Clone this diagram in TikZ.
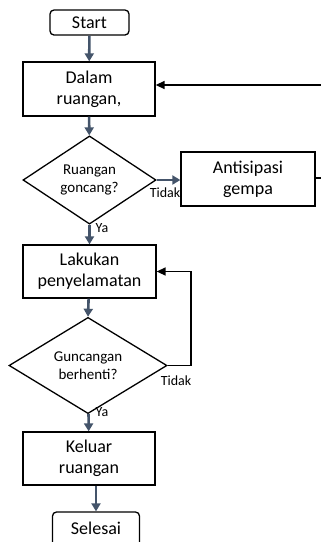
\documentclass[tikz,border=0pt]{standalone}
\usepackage{fontspec}
\setmainfont{Carlito}
\usetikzlibrary{shapes.geometric,arrows.meta}
\definecolor{flowblue}{HTML}{44546A}
\begin{document}
\begin{tikzpicture}[x=1pt,y=-1pt,
  box/.style={draw,line width=1.3pt,align=center,inner sep=0pt,
    font=\fontsize{18}{21}\selectfont},
  term/.style={box,rounded corners=4pt},
  ask/.style={draw,line width=1.3pt,diamond,align=center,inner sep=0pt,
    font=\fontsize{15}{18}\selectfont},
  lbl/.style={inner sep=0pt,font=\fontsize{14}{16}\selectfont},
  flow/.style={draw=flowblue,line width=2.6pt,
    -{Triangle[width=9pt,length=8pt]}},
  back/.style={draw,line width=1.4pt,-{Triangle[width=8pt,length=9pt]}}]

\useasboundingbox (0,0) rectangle (321,542);

% nodes
\node[term,minimum width=79pt,minimum height=25pt] (start) at (89.5,22.5) {Start};
\node[box,minimum width=132pt,minimum height=54pt] (dalam) at (89,89) {Dalam\\ruangan,};
\node[ask,minimum width=133pt,minimum height=76pt] (q1) at (89.5,180) {Ruangan\\goncang?};
\node[box,minimum width=134pt,minimum height=54pt] (anti) at (248,179) {Antisipasi\\gempa};
\node[box,minimum width=133pt,minimum height=53pt] (laku) at (89.5,271.5) {Lakukan\\penyelamatan};
\node[ask,minimum width=158pt,minimum height=79pt] (q2) at (88,365.5) {Guncangan\\berhenti?};
\node[box,minimum width=132pt,minimum height=53pt] (keluar) at (89,458.5) {Keluar\\ruangan};
\node[term,minimum width=87pt,minimum height=36pt] (selesai) at (96,530) {\raisebox{3pt}{Selesai}};

% labels
\node[lbl] (t1) at (165,193) {Tidak};
\node[lbl] (y1) at (102,228) {Ya};
\node[lbl] (t2) at (176,381) {Tidak};
\node[lbl] (y2) at (102,412) {Ya};

% connectors
\draw[flow] (start) -- (dalam);
\draw[flow] (dalam) -- (q1);
\draw[flow] (q1) -- (anti.west |- q1);
\draw[flow] (q1) -- (laku);
\draw[flow] (laku) -- (q2.north);
\draw[flow] (q2) -- (keluar);
\draw[flow] (keluar.south -| selesai.north) -- (selesai);

\coordinate (in) at (321,85);
\coordinate (out) at (321,178);
\coordinate (turn) at (191,365.5);
\draw[back] (in) -- (in -| dalam.east);
\draw[line width=1.4pt] (anti.east |- out) -- (out);
\draw[back] (q2.east) -- (turn) |- (laku.east);
\end{tikzpicture}
\end{document}
